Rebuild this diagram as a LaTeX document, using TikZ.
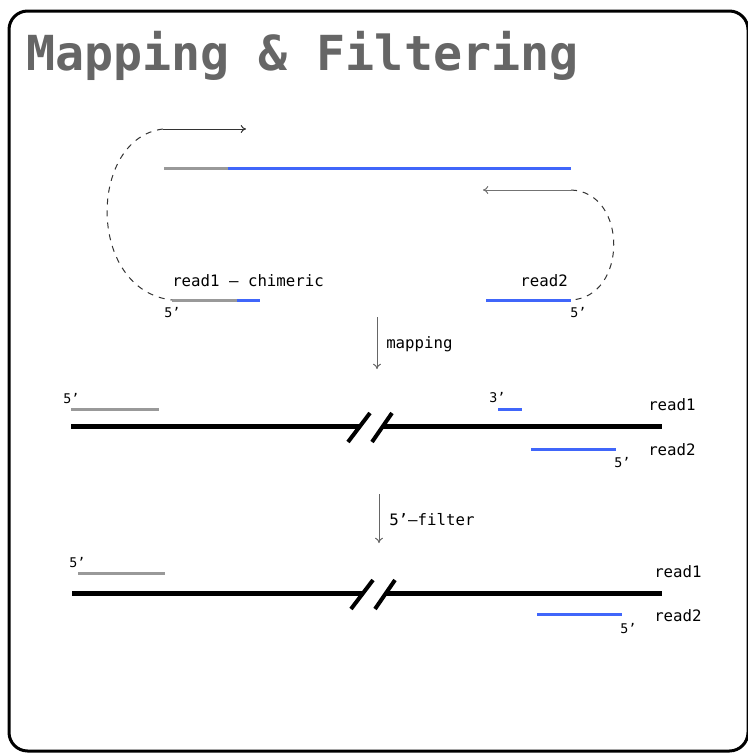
\documentclass[tikz,border=0pt]{standalone}
\usepackage{fontspec}
\setmonofont{DejaVu Sans Mono}
\usetikzlibrary{arrows.meta}
\definecolor{rblue}{RGB}{64,102,250}
\definecolor{rgray}{RGB}{153,153,153}
\definecolor{tgray}{RGB}{102,102,102}
\begin{document}
\begin{tikzpicture}[x=0.75pt,y=-0.75pt,
  strand/.style={line width=2.25pt},
  genome/.style={line width=3.75pt,black},
  slash/.style={line width=3pt,black},
  lbl/.style={font=\ttfamily\fontsize{11.8}{12}\selectfont,inner sep=0,anchor=base west},
  prime/.style={font=\ttfamily\fontsize{10}{10}\selectfont,inner sep=0,anchor=base west},
  arr/.style={-{To[length=4pt,width=6pt]},line width=0.75pt},
  dsh/.style={dash pattern=on 4.5pt off 4.5pt,line width=0.75pt,black!80},
  titlestyle/.style={font=\ttfamily\bfseries\fontsize{36.2}{40}\selectfont,text=tgray,inner sep=0,anchor=base west}]
\useasboundingbox (0,0) rectangle (747,753);
% frame
\draw[line width=2.25pt,rounded corners=14pt] (9,11) rectangle (748,751);
% title
\node[titlestyle] (title) at (26,70) {Mapping \& Filtering};
% top strand
\coordinate (g0) at (164,168);
\coordinate (g1) at (228,168);
\coordinate (g2) at (571,168);
\draw[strand,rgray] (g0) -- (g1);
\draw[strand,rblue] (g1) -- (g2);
% read1 chimeric
\coordinate (r1a) at (172,300);
\coordinate (r1b) at (237,300);
\coordinate (r1c) at (260,300);
\draw[strand,rgray] (r1a) -- (r1b);
\draw[strand,rblue] (r1b) -- (r1c);
% read2
\coordinate (r2a) at (486,300);
\coordinate (r2b) at (571,300);
\draw[strand,rblue] (r2a) -- (r2b);
% arrows and loops
\coordinate (a1s) at (163,129);
\coordinate (a1e) at (246,129);
\draw[arr,black!80] (a1s) -- (a1e);
\draw[dsh] (a1s) .. controls (88,138) and (86,290) .. (r1a);
\coordinate (a2s) at (571,190);
\coordinate (a2e) at (483,190);
\draw[arr,black!55] (a2s) -- (a2e);
\draw[dsh] (a2s) .. controls (628,192) and (628,297) .. (r2b);
% labels
\node[lbl] (l1) at (172,286) {read1 – chimeric};
\node[lbl,anchor=base east] (l2) at (568,286) {read2};
\node[prime] (p1) at (164,317) {5’};
\node[prime] (p2) at (570,317) {5’};
% mapping arrow
\coordinate (m1) at (377,317);
\coordinate (m2) at (377,369);
\draw[arr,black!60] (m1) -- (m2);
\node[lbl] (lm) at (386,348) {mapping};
% genome 1
\coordinate (ga) at (71,426);
\coordinate (gb) at (359,426);
\coordinate (gc) at (382,426);
\coordinate (gd) at (662,426);
\draw[genome] (ga) -- (gb);
\draw[genome] (gc) -- (gd);
\coordinate (s1a) at (348,442); \coordinate (s1b) at (370,413);
\coordinate (s2a) at (372,442); \coordinate (s2b) at (392,413);
\draw[slash] (s1a) -- (s1b);
\draw[slash] (s2a) -- (s2b);
\coordinate (u1a) at (71,409); \coordinate (u1b) at (159,409);
\draw[strand,rgray] (u1a) -- (u1b);
\node[prime] (q1) at (63,403) {5’};
\coordinate (u2a) at (498,409); \coordinate (u2b) at (522,409);
\draw[strand,rblue] (u2a) -- (u2b);
\node[prime] (q2) at (489,402) {3’};
\node[lbl] (m1l) at (648,410) {read1};
\coordinate (u3a) at (531,449); \coordinate (u3b) at (616,449);
\draw[strand,rblue] (u3a) -- (u3b);
\node[prime] (q3) at (614,467) {5’};
\node[lbl] (m2l) at (648,455) {read2};
% filter arrow
\coordinate (f1) at (379,494);
\coordinate (f2) at (379,543);
\draw[arr,black!60] (f1) -- (f2);
\node[lbl] (lf) at (389,525) {5’–filter};
% genome 2
\coordinate (ha) at (72,593);
\coordinate (hb) at (362,593);
\coordinate (hc) at (385,593);
\coordinate (hd) at (662,593);
\draw[genome] (ha) -- (hb);
\draw[genome] (hc) -- (hd);
\coordinate (t1a) at (351,609); \coordinate (t1b) at (373,580);
\coordinate (t2a) at (375,609); \coordinate (t2b) at (395,580);
\draw[slash] (t1a) -- (t1b);
\draw[slash] (t2a) -- (t2b);
\coordinate (v1a) at (78,573); \coordinate (v1b) at (165,573);
\draw[strand,rgray] (v1a) -- (v1b);
\node[prime] (w1) at (69,567) {5’};
\node[lbl] (n1l) at (654,577) {read1};
\coordinate (v3a) at (537,614); \coordinate (v3b) at (622,614);
\draw[strand,rblue] (v3a) -- (v3b);
\node[prime] (w3) at (620,633) {5’};
\node[lbl] (n2l) at (654,621) {read2};
\end{tikzpicture}
\end{document}
